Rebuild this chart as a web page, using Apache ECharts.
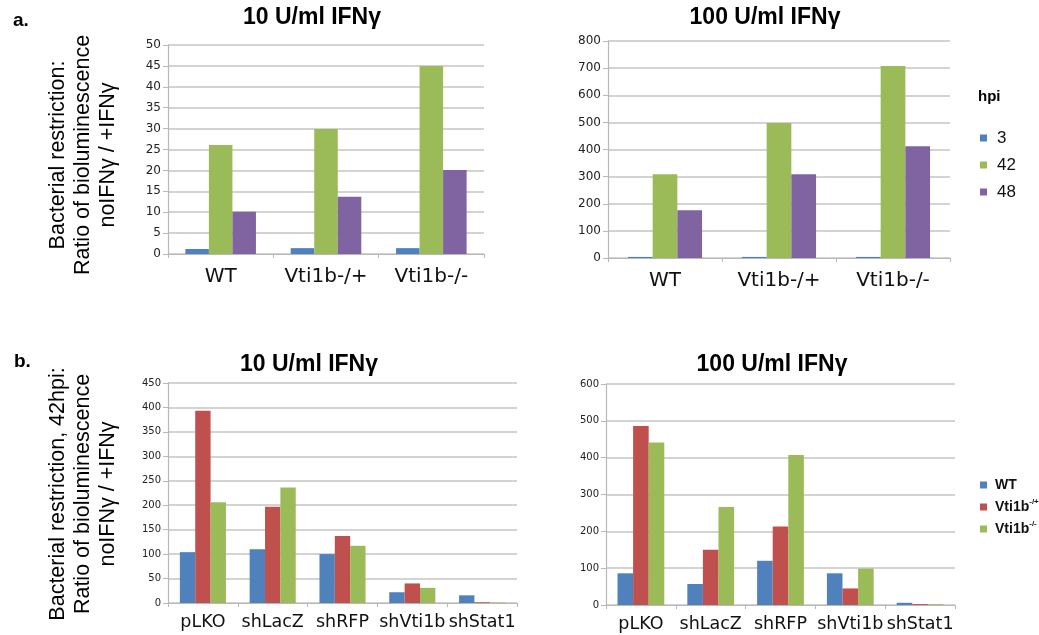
<!DOCTYPE html>
<html><head><meta charset="utf-8">
<script src="https://cdn.jsdelivr.net/npm/echarts@6/dist/echarts.min.js"></script>
<style>html,body{margin:0;padding:0;background:#fff}#c{width:1039px;height:635px}</style>
</head><body><div id="c"></div>
<script>
// ---- data ----
var genotypes = ['WT', 'Vti1b-/+', 'Vti1b-/-'];
var hpiNames = ['3', '42', '48'];
var a10_h3 = [1.2, 1.4, 1.4];
var a10_h42 = [26.1, 29.9, 45.0];
var a10_h48 = [10.1, 13.7, 20.1];
var a100_h3 = [4, 4, 4];
var a100_h42 = [309, 498, 708];
var a100_h48 = [176, 309, 412];
var shRNAs = ['pLKO', 'shLacZ', 'shRFP', 'shVti1b', 'shStat1'];
var lineNames = ['WT', 'Vti1b-/+', 'Vti1b-/-'];
var b10_wt = [104, 110, 100, 22, 15.7];
var b10_het = [393, 197, 137, 40, 1.5];
var b10_ko = [206, 236, 117, 31, 1];
var b100_wt = [86, 57, 120, 86, 6];
var b100_het = [486, 150, 213, 45, 2.5];
var b100_ko = [441, 266, 407, 99, 2];
var yTicksA10 = {min: 0, max: 50, interval: 5};
var yTicksA100 = {min: 0, max: 800, interval: 100};
var yTicksB10 = {min: 0, max: 450, interval: 50};
var yTicksB100 = {min: 0, max: 600, interval: 100};

var C_BLUE = '#4f81bd', C_GREEN = '#9bbb59', C_PURPLE = '#8064a2', C_RED = '#c0504d';
var GRID = '#c4c4c4';
var LAB = 'DejaVu Sans';

function xAx(gi, cats, fs, margin) {
  return {type: 'category', gridIndex: gi, data: cats,
    axisLine: {lineStyle: {color: '#b8b8b8', width: 1.2}},
    axisTick: {show: true, length: 4, lineStyle: {color: '#b8b8b8'}},
    axisLabel: {fontFamily: LAB, fontSize: fs, color: '#111', margin: margin, interval: 0}};
}
function yAx(gi, t, fs) {
  return {type: 'value', gridIndex: gi, min: t.min, max: t.max, interval: t.interval,
    axisLine: {show: true, lineStyle: {color: '#b8b8b8', width: 1.2}},
    axisTick: {show: true, length: 5, lineStyle: {color: '#b8b8b8'}},
    splitLine: {lineStyle: {color: GRID, width: 1.5}},
    axisLabel: {fontFamily: LAB, fontSize: fs, color: '#222', margin: 7}};
}
function bar(name, gi, data, color, gap) {
  return {type: 'bar', name: name, xAxisIndex: gi, yAxisIndex: gi, data: data,
    barGap: '0%', barCategoryGap: gap, itemStyle: {color: color}, animation: false};
}

var chart = echarts.init(document.getElementById('c'), null, {renderer: 'canvas'});
chart.setOption({
  animation: false,
  grid: [
    {left: 168, top: 45, width: 316, height: 209},
    {left: 608, top: 41, width: 342, height: 217},
    {left: 168, top: 383, width: 349, height: 220},
    {left: 606, top: 384, width: 349, height: 221}
  ],
  xAxis: [xAx(0, genotypes, 20, 13), xAx(1, genotypes, 20, 13), xAx(2, shRNAs, 17.5, 10), xAx(3, shRNAs, 17.5, 10)],
  yAxis: [yAx(0, yTicksA10, 12), yAx(1, yTicksA100, 12), yAx(2, yTicksB10, 10), yAx(3, yTicksB100, 10)],
  legend: [
    {data: hpiNames, orient: 'vertical', left: 975, top: 123, icon: 'rect', itemWidth: 7, itemHeight: 7,
      itemGap: 7, selectedMode: false,
      textStyle: {fontFamily: 'Liberation Sans', fontSize: 17, color: '#111', lineHeight: 20, padding: [0, 0, 0, 5]}},
    {data: lineNames, orient: 'vertical', left: 975, top: 471, icon: 'rect', itemWidth: 7, itemHeight: 7,
      itemGap: 4, selectedMode: false,
      formatter: function (n) {
        if (n === 'WT') return '{b|WT}';
        return '{b|Vti1b}{s|' + n.slice(5) + '}';
      },
      textStyle: {fontFamily: 'Liberation Sans', fontSize: 14, color: '#111', lineHeight: 18, padding: [0, 0, 0, 3],
        rich: {b: {fontWeight: 'bold', fontSize: 14, color: '#111', fontFamily: 'Liberation Sans'},
               s: {fontWeight: 'bold', fontSize: 8, color: '#111', fontFamily: 'Liberation Sans', verticalAlign: 'top', padding: [0, 0, 8, 0]}}}}
  ],
  series: [
    bar('3', 0, a10_h3, C_BLUE, '33%'), bar('42', 0, a10_h42, C_GREEN, '33%'), bar('48', 0, a10_h48, C_PURPLE, '33%'),
    bar('3', 1, a100_h3, C_BLUE, '35%'), bar('42', 1, a100_h42, C_GREEN, '35%'), bar('48', 1, a100_h48, C_PURPLE, '35%'),
    bar('WT', 2, b10_wt, C_BLUE, '34%'), bar('Vti1b-/+', 2, b10_het, C_RED, '34%'), bar('Vti1b-/-', 2, b10_ko, C_GREEN, '34%'),
    bar('WT', 3, b100_wt, C_BLUE, '33%'), bar('Vti1b-/+', 3, b100_het, C_RED, '33%'), bar('Vti1b-/-', 3, b100_ko, C_GREEN, '33%')
  ],
  graphic: [
    {type: 'text', x: 312, y: 18, style: {text: '10 U/ml IFNγ', fontFamily: 'Liberation Sans', fontWeight: 'bold', fontSize: 23, fill: '#000', align: 'center', verticalAlign: 'middle', textAlign: 'center', textVerticalAlign: 'middle'}},
    {type: 'text', x: 765, y: 18, style: {text: '100 U/ml IFNγ', fontFamily: 'Liberation Sans', fontWeight: 'bold', fontSize: 23, fill: '#000', align: 'center', verticalAlign: 'middle', textAlign: 'center', textVerticalAlign: 'middle'}},
    {type: 'text', x: 309, y: 365, style: {text: '10 U/ml IFNγ', fontFamily: 'Liberation Sans', fontWeight: 'bold', fontSize: 23, fill: '#000', align: 'center', verticalAlign: 'middle', textAlign: 'center', textVerticalAlign: 'middle'}},
    {type: 'text', x: 772, y: 365, style: {text: '100 U/ml IFNγ', fontFamily: 'Liberation Sans', fontWeight: 'bold', fontSize: 23, fill: '#000', align: 'center', verticalAlign: 'middle', textAlign: 'center', textVerticalAlign: 'middle'}},
    {type: 'text', x: 13, y: 21, style: {text: 'a.', fontFamily: 'Liberation Sans', fontWeight: 'bold', fontSize: 19, fill: '#000', align: 'left', verticalAlign: 'middle', textAlign: 'left', textVerticalAlign: 'middle'}},
    {type: 'text', x: 14, y: 362, style: {text: 'b.', fontFamily: 'Liberation Sans', fontWeight: 'bold', fontSize: 19, fill: '#000', align: 'left', verticalAlign: 'middle', textAlign: 'left', textVerticalAlign: 'middle'}},
    {type: 'text', x: 978, y: 97, style: {text: 'hpi', fontFamily: 'Liberation Sans', fontWeight: 'bold', fontSize: 15, fill: '#000', align: 'left', verticalAlign: 'middle', textAlign: 'left', textVerticalAlign: 'middle'}},
    {type: 'text', x: 83, y: 155, rotation: Math.PI / 2, style: {text: 'Bacterial restriction:\nRatio of bioluminescence\nnoIFNγ / +IFNγ', fontFamily: 'Liberation Sans', fontSize: 21.5, lineHeight: 25, fill: '#000', align: 'center', verticalAlign: 'middle', textAlign: 'center', textVerticalAlign: 'middle'}},
    {type: 'text', x: 83, y: 494, rotation: Math.PI / 2, style: {text: 'Bacterial restriction, 42hpi:\nRatio of bioluminescence\nnoIFNγ / +IFNγ', fontFamily: 'Liberation Sans', fontSize: 21.5, lineHeight: 25, fill: '#000', align: 'center', verticalAlign: 'middle', textAlign: 'center', textVerticalAlign: 'middle'}}
  ]
});
</script>
</body></html>
